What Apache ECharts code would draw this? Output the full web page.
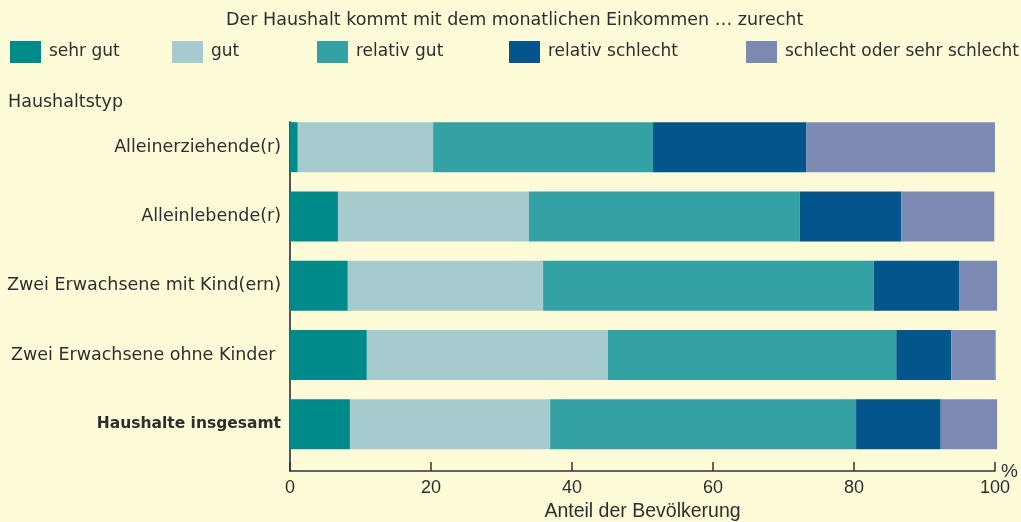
<!DOCTYPE html>
<html>
<head>
<meta charset="utf-8">
<script src="https://cdn.jsdelivr.net/npm/echarts@6/dist/echarts.min.js"></script>
<style>
  html, body { margin: 0; padding: 0; background: #FEFBD9; }
  #chart { width: 1021px; height: 522px; }
</style>
</head>
<body>
<div id="chart"></div>
<script>
// ---- data ----
const categories = [
  'Alleinerziehende(r)',
  'Alleinlebende(r)',
  'Zwei Erwachsene mit Kind(ern)',
  'Zwei Erwachsene ohne Kinder ',
  'Haushalte insgesamt'
];
const seriesNames = ['sehr gut', 'gut', 'relativ gut', 'relativ schlecht', 'schlecht oder sehr schlecht'];
const sehrGut          = [1.1, 6.8, 8.2, 10.9, 8.5];
const gut              = [19.2, 27.1, 27.7, 34.2, 28.4];
const relativGut       = [31.2, 38.4, 46.9, 40.9, 43.4];
const relativSchlecht  = [21.7, 14.4, 12.1, 7.8, 12.0];
const schlecht         = [26.8, 13.2, 5.4, 6.3, 8.0];
const xTicks = [0, 20, 40, 60, 80, 100];

const colors = ['#008B8A', '#A6CBCF', '#34A1A5', '#04558B', '#7D8BB4'];
const values = [sehrGut, gut, relativGut, relativSchlecht, schlecht];

const FONT = 'DejaVu Sans';
const NUMF = '"Liberation Sans", sans-serif';
const TXT = '#2e2e2e';

const legendLefts = [10, 172, 317, 509, 746];

const chart = echarts.init(document.getElementById('chart'), null, { renderer: 'canvas' });
chart.setOption({
  backgroundColor: '#FEFBD9',
  animation: false,
  textStyle: { fontFamily: FONT, color: TXT },
  title: [
    { text: 'Der Haushalt kommt mit dem monatlichen Einkommen … zurecht', left: 221, top: 6,
      textStyle: { fontFamily: FONT, fontSize: 17.5, fontWeight: 'normal', color: TXT } },
    { text: 'Haushaltstyp', left: 3, top: 88,
      textStyle: { fontFamily: FONT, fontSize: 17.5, fontWeight: 'normal', color: TXT } }
  ],
  legend: seriesNames.map((n, i) => ({
    data: [n], left: legendLefts[i], top: 41, itemWidth: 31, itemHeight: 22, itemGap: 0,
    icon: 'rect', selectedMode: false,
    textStyle: { fontFamily: FONT, fontSize: 17, color: TXT, padding: [0, 0, 0, 3] },
    padding: 0
  })),
  grid: [
    { left: 290, right: 11.9, top: 112.5, height: 346.5, containLabel: false, outerBoundsMode: 'none' },
    { left: 290, right: 26, top: 122, height: 349, containLabel: false, outerBoundsMode: 'none' }
  ],
  xAxis: [
    { type: 'value', gridIndex: 0, min: 0, max: 102, show: false },
    { type: 'value', gridIndex: 1, min: 0, max: 100, interval: 20,
      axisLine: { show: true, lineStyle: { color: '#333', width: 1.5 } },
      axisTick: { show: true, inside: true, length: 9, lineStyle: { color: '#333', width: 1.5 } },
      splitLine: { show: false },
      axisLabel: { fontFamily: NUMF, fontSize: 18, color: TXT, margin: 8,
        formatter: v => xTicks.includes(v) ? String(v) : '' },
      name: 'Anteil der Bevölkerung', nameLocation: 'middle', nameGap: 31,
      nameTextStyle: { fontFamily: NUMF, fontSize: 19.5, color: TXT }
    }
  ],
  yAxis: [
    { type: 'category', gridIndex: 0, data: categories, inverse: true,
      axisLine: { show: false }, axisTick: { show: false },
      axisLabel: { fontFamily: FONT, fontSize: 17.5, color: TXT, margin: 9,
        formatter: (v, i) => i === categories.length - 1 ? '{b|' + v + '}' : v,
        rich: { b: { fontFamily: FONT, fontSize: 15.5, fontWeight: 'bold', color: TXT } } } },
    { type: 'value', gridIndex: 1, min: 0, max: 1, position: 'left',
      axisLine: { show: true, lineStyle: { color: '#555', width: 2 } },
      axisTick: { show: false }, axisLabel: { show: false }, splitLine: { show: false } }
  ],
  graphic: [
    { type: 'text', right: 3, top: 462, style: { text: '%', fontFamily: NUMF, fontSize: 19, fill: TXT } }
  ],
  series: seriesNames.map((n, i) => ({
    name: n, type: 'bar', stack: 'total', xAxisIndex: 0, yAxisIndex: 0,
    barWidth: 50, data: values[i], itemStyle: { color: colors[i] },
    emphasis: { disabled: true }
  }))
});
</script>
</body>
</html>
